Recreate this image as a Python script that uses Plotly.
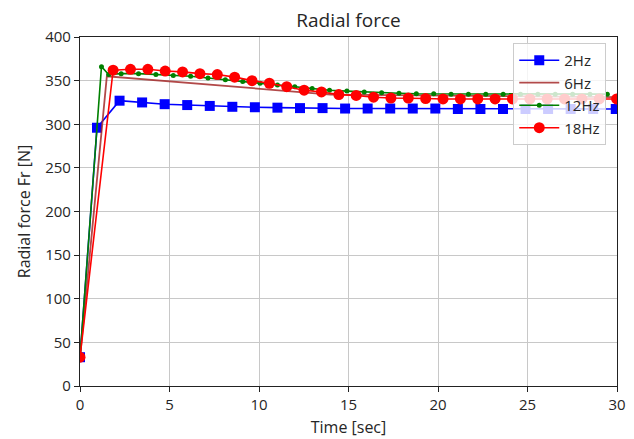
import plotly.graph_objects as go

# ---- data ----
t_2hz = [0.0] + [round(0.95 + 1.26 * k, 3) for k in range(24)]
f_2hz = [33, 296, 327, 325, 323, 322, 321, 320, 319.5, 319, 318.5, 318.5, 318, 318,
         318, 318, 318, 317.5, 317.5, 317.5, 317.5, 317.5, 317.5, 317.5, 317.5]

t_6hz = [0.0, 1.5, 14.0, 30.0]
f_6hz = [33, 355, 334, 331]

t_12hz = [0.0, 1.2, 1.6] + [round(2.3 + 0.97 * k, 3) for k in range(29)]
f_12hz = [33, 366, 357,
          358, 358, 357, 356, 355, 353, 351, 349, 347, 345, 343, 341, 339, 338,
          337, 336, 335.5, 335, 335, 334.5, 334.5, 334.5, 334.5, 334.5, 334.5,
          334.5, 334.5, 334.5, 334.5]

t_18hz = [0.0] + [round(1.85 + 0.97 * k, 3) for k in range(30)]
f_18hz = [33, 362, 363, 363, 361, 360, 358, 357, 354, 350, 347, 343, 339, 337, 334,
          333, 331, 330, 330, 329.5, 329, 329, 329, 329, 329, 329, 329, 329, 329,
          329, 329]

x_ticks = [0, 5, 10, 15, 20, 25, 30]
y_ticks = [0, 50, 100, 150, 200, 250, 300, 350, 400]

FONT = "Open Sans"
TXT = "#262626"

fig = go.Figure()
fig.add_trace(go.Scatter(x=t_2hz, y=f_2hz, name="2Hz", mode="lines+markers",
                         legendgroup="a",
                         line=dict(color="#0000ff", width=1.6),
                         marker=dict(symbol="square", size=10, color="#0000ff")))
fig.add_trace(go.Scatter(x=t_6hz, y=f_6hz, name="6Hz", mode="lines",
                         legendgroup="b",
                         line=dict(color="#a52a2a", width=1.8), opacity=0.85))
fig.add_trace(go.Scatter(x=t_12hz, y=f_12hz, name="12Hz", mode="lines+markers",
                         legendgroup="c",
                         line=dict(color="#008000", width=1.6),
                         marker=dict(symbol="circle", size=5, color="#008000")))
fig.add_trace(go.Scatter(x=t_18hz, y=f_18hz, name="18Hz", mode="lines+markers",
                         legendgroup="d",
                         line=dict(color="#ff0000", width=1.6),
                         marker=dict(symbol="circle", size=11, color="#ff0000")))

axis_common = dict(showline=True, linecolor="#222222", linewidth=1.2, mirror=True,
                   ticks="outside", ticklen=5, tickcolor="#222222",
                   showgrid=True, gridcolor="#c8c8c8", gridwidth=1,
                   zeroline=False, tickfont=dict(family=FONT, size=15, color=TXT))

fig.update_layout(
    width=634, height=439,
    margin=dict(l=72, r=25, t=29, b=61),
    paper_bgcolor="white", plot_bgcolor="white",
    font=dict(family=FONT, size=15, color=TXT),
    title=dict(text="Radial force", xref="paper", x=0.5, xanchor="center",
               yref="container", y=0.973, yanchor="middle",
               font=dict(family=FONT, size=19, color=TXT)),
    xaxis=dict(range=[0, 30], tickvals=x_ticks,
               title=dict(text="Time [sec]", standoff=8,
                          font=dict(family=FONT, size=16, color=TXT)), **axis_common),
    yaxis=dict(range=[0, 400], tickvals=y_ticks,
               title=dict(text="Radial force Fr [N]", standoff=10,
                          font=dict(family=FONT, size=16, color=TXT)), **axis_common),
    legend=dict(x=0.98, y=0.983, xanchor="right", yanchor="top",
                bgcolor="rgba(255,255,255,0.8)", bordercolor="#cccccc", borderwidth=1,
                font=dict(family=FONT, size=15, color=TXT),
                tracegroupgap=0, itemwidth=40),
    showlegend=True,
)

fig.write_html("out.html")
